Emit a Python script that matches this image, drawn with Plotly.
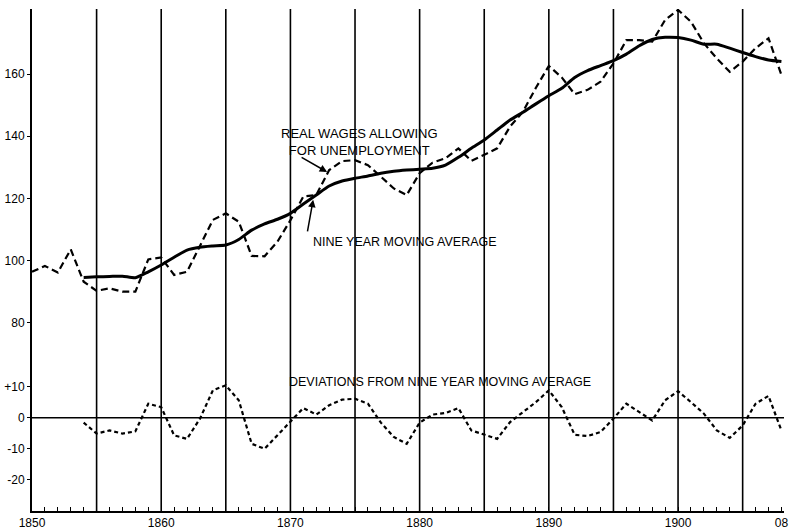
import plotly.graph_objects as go

# ---- data ----
wage_years = list(range(1850, 1909))
real_wages = [96.4, 98.3, 96.2, 103.6, 93.2, 90.3, 91.1, 90.0, 90.0, 100.4,
              101.0, 95.4, 96.4, 104.5, 113.1, 115.2, 112.5, 101.5, 101.4, 106.1,
              113.0, 120.6, 121.1, 129.1, 132.0, 132.3, 130.7, 127.0, 123.2, 121.1,
              128.1, 131.5, 132.9, 136.1, 132.1, 134.0, 136.1, 143.1, 147.9, 155.6,
              162.6, 158.9, 153.5, 154.9, 157.5, 163.4, 170.9, 170.9, 170.4, 177.4,
              180.6, 176.8, 169.9, 165.0, 160.7, 164.0, 168.3, 171.5, 159.7]

ma_years = list(range(1854, 1909))
moving_avg = [94.6, 94.8, 94.9, 95.0, 94.5, 96.4, 98.6, 101.1, 103.4, 104.3,
              104.7, 105.0, 106.8, 109.8, 111.8, 113.3, 115.2, 118.2, 121.1, 124.0,
              125.6, 126.5, 127.2, 128.1, 128.7, 129.1, 129.4, 129.7, 130.7, 133.2,
              136.1, 138.8, 142.0, 145.2, 147.7, 150.4, 153.0, 155.4, 158.9, 161.1,
              162.7, 164.3, 166.4, 169.1, 171.1, 171.8, 171.7, 170.9, 169.6, 169.6,
              168.3, 166.9, 165.6, 164.5, 164.0]

dev_years = list(range(1854, 1909))
deviations = [-1.6, -5.1, -4.1, -5.1, -4.4, 4.5, 3.4, -5.7, -6.8, -0.3,
              8.8, 10.4, 5.6, -8.4, -10.0, -5.7, -1.4, 3.1, 1.0, 4.0,
              5.8, 6.1, 4.5, -1.6, -6.2, -8.4, -1.6, 1.0, 1.5, 3.1,
              -4.1, -5.5, -6.8, -1.4, 1.8, 5.0, 8.8, 3.4, -5.5, -5.9,
              -4.6, -0.3, 4.5, 1.8, -0.9, 5.6, 8.5, 5.0, 1.3, -4.1,
              -6.5, -2.5, 4.5, 7.0, -4.1]

# deviations share the same scale, drawn with their zero at this level
DEV_BASE = 49.5

upper_ticks = [160, 140, 120, 100, 80]
upper_labels = ["160", "140", "120", "100", "80"]
dev_ticks = [10, 0, -10, -20]
dev_labels = ["+10", "0", "-10", "-20"]

x_label_years = [1850, 1860, 1870, 1880, 1890, 1900, 1908]
x_label_text = ["1850", "1860", "1870", "1880", "1890", "1900", "08"]
grid_years = list(range(1855, 1906, 5))

FONT = "Liberation Sans"

fig = go.Figure()

fig.add_trace(go.Scatter(
    x=wage_years, y=real_wages, mode="lines",
    line=dict(color="black", width=2.2, dash="7px,4px"),
    showlegend=False, hoverinfo="skip"))

fig.add_trace(go.Scatter(
    x=ma_years, y=moving_avg, mode="lines",
    line=dict(color="black", width=3, shape="spline", smoothing=0.6),
    showlegend=False, hoverinfo="skip"))

fig.add_trace(go.Scatter(
    x=dev_years, y=[DEV_BASE + d for d in deviations], mode="lines",
    line=dict(color="black", width=2.2, dash="4px,3px"),
    showlegend=False, hoverinfo="skip"))

shapes = []
for gy in grid_years:
    shapes.append(dict(type="line", xref="x", yref="paper", x0=gy, x1=gy,
                       y0=0, y1=1, line=dict(color="black", width=1.6), layer="below"))
shapes.append(dict(type="line", xref="paper", yref="y", x0=0, x1=1,
                   y0=DEV_BASE, y1=DEV_BASE, line=dict(color="black", width=1.6),
                   layer="below"))

tick_vals_x = wage_years
tick_text_x = [x_label_text[x_label_years.index(y)] if y in x_label_years else ""
               for y in tick_vals_x]

yvals = upper_ticks + [DEV_BASE + d for d in dev_ticks]
ytext = upper_labels + dev_labels

annotations = [
    dict(x=1875.35, y=138.3, xref="x", yref="y",
         text="REAL WAGES ALLOWING<br>FOR UNEMPLOYMENT", showarrow=False,
         font=dict(family=FONT, size=13, color="black"),
         xanchor="center", yanchor="middle", align="center"),
    dict(x=1872.84, y=128.5, xref="x", yref="y", ax=1870.75, ay=133.5,
         axref="x", ayref="y", text="", showarrow=True, arrowhead=2,
         arrowsize=1, arrowwidth=1.5, arrowcolor="black"),
    dict(x=1871.6, y=106.1, xref="x", yref="y",
         text="NINE YEAR MOVING AVERAGE", showarrow=False,
         font=dict(family=FONT, size=12.5, color="black"),
         xanchor="left", yanchor="middle"),
    dict(x=1871.76, y=119.6, xref="x", yref="y", ax=1871.3, ay=108.9,
         axref="x", ayref="y", text="", showarrow=True, arrowhead=2,
         arrowsize=1, arrowwidth=1.5, arrowcolor="black"),
    dict(x=1881.58, y=61.0, xref="x", yref="y",
         text="DEVIATIONS FROM NINE YEAR MOVING AVERAGE", showarrow=False,
         font=dict(family=FONT, size=12.5, color="black"),
         xanchor="center", yanchor="middle"),
]

fig.update_layout(
    width=789, height=530,
    margin=dict(l=32, r=5, t=9, b=19),
    paper_bgcolor="white", plot_bgcolor="white",
    shapes=shapes, annotations=annotations,
    font=dict(family=FONT, size=12, color="black"),
    xaxis=dict(range=[1850, 1908.2], tickmode="array", tickvals=tick_vals_x,
               ticktext=tick_text_x, ticks="inside", ticklen=4, tickwidth=1.3,
               tickcolor="black", showgrid=False, zeroline=False,
               showline=True, linecolor="black", linewidth=2, automargin=False,
               tickfont=dict(family=FONT, size=12, color="black")),
    yaxis=dict(range=[19.5, 180.9], tickmode="array", tickvals=yvals,
               ticktext=ytext, ticks="outside", ticklen=3, tickwidth=1.3,
               tickcolor="black", showgrid=False, zeroline=False,
               showline=True, linecolor="black", linewidth=2, automargin=False,
               tickfont=dict(family=FONT, size=12, color="black")),
)

# remove the page's default body margin so the figure sits at the window origin
fig.write_html("out.html",
               config={"displayModeBar": False},
               post_script="document.body.style.margin='0';"
                           "document.documentElement.style.overflow='hidden';")
